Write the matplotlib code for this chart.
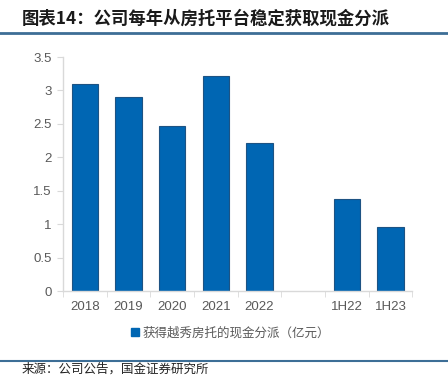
import matplotlib.pyplot as plt
from matplotlib.lines import Line2D

plt.rcParams['font.family'] = ['Liberation Sans', 'Noto Sans CJK SC', 'DejaVu Sans']

categories = ["2018", "2019", "2020", "2021", "2022", "", "1H22", "1H23"]
values = [3.09, 2.90, 2.47, 3.21, 2.21, None, 1.375, 0.96]
series_name = "获得越秀房托的现金分派（亿元）"
y_ticks = [0, 0.5, 1, 1.5, 2, 2.5, 3, 3.5]
y_tick_labels = ["0", "0.5", "1", "1.5", "2", "2.5", "3", "3.5"]
title = "图表14：公司每年从房托平台稳定获取现金分派"
source = "来源：公司公告，国金证券研究所"

BAR_COLOR = "#0066B3"
EDGE_COLOR = "#1D5383"
AXIS_GRAY = "#D9D9D9"
TEXT_GRAY = "#595959"
RULE_COLOR = "#3D6E96"

fig = plt.figure(figsize=(4.48, 3.8), dpi=100)
ax = fig.add_axes([0.1406, 0.234, 0.78, 0.616])

xs = [i for i, v in enumerate(values) if v is not None]
hs = [v for v in values if v is not None]
ax.bar(xs, hs, width=0.6, color=BAR_COLOR, edgecolor=EDGE_COLOR, linewidth=0.8,
       label=series_name)

ax.set_xlim(-0.5, len(categories) - 0.5)
ax.set_ylim(0, 3.5)
ax.set_yticks(y_ticks)
ax.set_yticklabels(y_tick_labels)
ax.set_xticks(range(len(categories)))
ax.set_xticklabels(categories)
# small separators between categories
ax.set_xticks([i + 0.5 for i in range(-1, len(categories))], minor=True)

for s in ["top", "right"]:
    ax.spines[s].set_visible(False)
for s in ["left", "bottom"]:
    ax.spines[s].set_color(AXIS_GRAY)
    ax.spines[s].set_linewidth(1.0)

ax.tick_params(axis="x", which="major", length=0, pad=7, labelsize=9.5, labelcolor=TEXT_GRAY)
ax.tick_params(axis="x", which="minor", length=4, color=AXIS_GRAY, direction="out")
ax.tick_params(axis="y", length=4, color=AXIS_GRAY, labelsize=9.5, labelcolor=TEXT_GRAY, pad=4)

handle = plt.Rectangle((0, 0), 1, 1, color=BAR_COLOR)
fig.legend([handle], [series_name], loc="center", bbox_to_anchor=(0.515, 0.123),
           frameon=False, handlelength=0.6, handleheight=0.6,
           handletextpad=0.3, labelcolor=TEXT_GRAY,
           prop={'family': ['Noto Sans CJK SC', 'DejaVu Sans'], 'size': 9})

fig.text(0.048, 0.952, title, fontsize=12.5, fontweight="bold", fontstyle="italic",
         family=['Noto Sans CJK SC', 'DejaVu Sans'], va="center", ha="left", color="#1a1a1a")
fig.add_artist(Line2D([0, 1], [0.912, 0.912], transform=fig.transFigure,
                      color=RULE_COLOR, linewidth=2))
fig.add_artist(Line2D([0, 1], [0.05, 0.05], transform=fig.transFigure,
                      color=RULE_COLOR, linewidth=1.5))
fig.text(0.048, 0.028, source, fontsize=9, family=['Noto Sans CJK SC', 'DejaVu Sans'],
         va="center", ha="left", color="#222222")

fig.savefig("out.png", dpi=100)
